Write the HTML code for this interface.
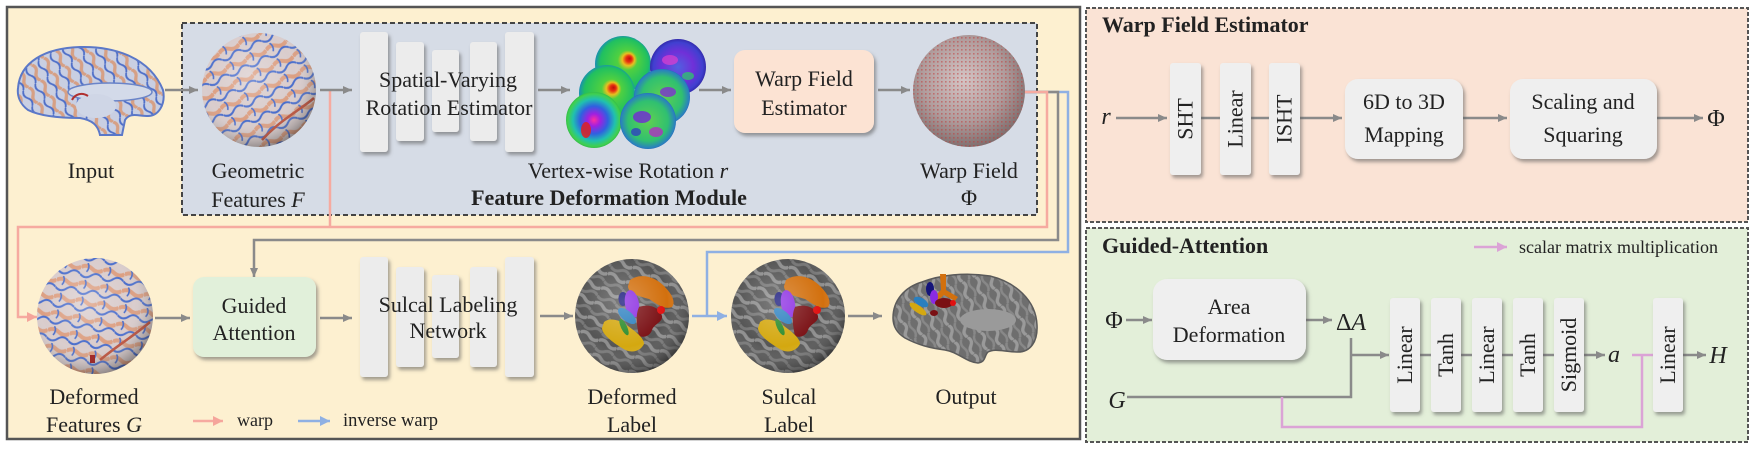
<!DOCTYPE html>
<html><head><meta charset="utf-8">
<style>
html,body{margin:0;padding:0;background:#fff;}
svg{display:block;font-family:"Liberation Serif","DejaVu Serif",serif;}
text{font-family:"Liberation Serif","DejaVu Serif",serif;fill:#222;}
</style></head><body>
<svg width="1755" height="450" viewBox="0 0 1755 450" xmlns="http://www.w3.org/2000/svg" font-family="Liberation Serif, DejaVu Serif, serif">
<defs>
 <marker id="ag" markerWidth="10" markerHeight="10" refX="9" refY="5" orient="auto" markerUnits="userSpaceOnUse"><path d="M0,1 L9,5 L0,9 Z" fill="#8a8a8a"/></marker>
 <marker id="ap" markerWidth="12" markerHeight="12" refX="10" refY="6" orient="auto" markerUnits="userSpaceOnUse"><path d="M0,1 L10,6 L0,11 Z" fill="#f5a59b"/></marker>
 <marker id="ab" markerWidth="12" markerHeight="12" refX="10" refY="6" orient="auto" markerUnits="userSpaceOnUse"><path d="M0,1 L10,6 L0,11 Z" fill="#8fb0e3"/></marker>
 <marker id="am" markerWidth="12" markerHeight="12" refX="10" refY="6" orient="auto" markerUnits="userSpaceOnUse"><path d="M0,1 L10,6 L0,11 Z" fill="#dba3d6"/></marker>
 <filter id="sh" x="-30%" y="-30%" width="170%" height="170%"><feDropShadow dx="2" dy="3" stdDeviation="1.8" flood-color="#555" flood-opacity="0.55"/></filter>

 <pattern id="ftex" width="22" height="17" patternUnits="userSpaceOnUse" patternTransform="rotate(-25)">
  <rect width="22" height="17" fill="#d9cccc"/>
  <path d="M0,5 q5.5,-4 11,0 t11,0" stroke="#dc9f82" stroke-width="4" fill="none"/>
  <path d="M0,12 q5.5,5 11,0 t11,0" stroke="#4a6ecc" stroke-width="2" fill="none"/>
  <path d="M6,0 q3,4 0,9" stroke="#4a6ecc" stroke-width="1.6" fill="none"/>
 </pattern>
 <pattern id="btex" width="18" height="14" patternUnits="userSpaceOnUse" patternTransform="rotate(60)">
  <rect width="18" height="14" fill="#c9cfe2"/>
  <path d="M0,5 q4.5,-4 9,0 t9,0" stroke="#d6a085" stroke-width="3.2" fill="none"/>
  <path d="M0,11 q4.5,4 9,0 t9,0" stroke="#4f6fc8" stroke-width="1.8" fill="none"/>
 </pattern>
 <pattern id="gyri" width="20" height="16" patternUnits="userSpaceOnUse" patternTransform="rotate(25)">
  <rect width="20" height="16" fill="#555"/>
  <path d="M0,4 q5,-4 10,0 t10,0" stroke="#8e8e8e" stroke-width="3.5" fill="none"/>
  <path d="M0,12 q5,4 10,0 t10,0" stroke="#777" stroke-width="3" fill="none"/>
 </pattern>
 <pattern id="gyri2" width="18" height="14" patternUnits="userSpaceOnUse" patternTransform="rotate(70)">
  <rect width="18" height="14" fill="#6e6e6e"/>
  <path d="M0,4 q4.5,-4 9,0 t9,0" stroke="#9a9a9a" stroke-width="3.2" fill="none"/>
  <path d="M0,11 q4.5,3 9,0 t9,0" stroke="#888" stroke-width="2.5" fill="none"/>
 </pattern>
 <pattern id="dots" width="4" height="4" patternUnits="userSpaceOnUse">
  <rect x="1" y="1" width="1.6" height="1.6" fill="#c03a3a" opacity="0.5"/>
 </pattern>
 <radialGradient id="shade" cx="0.42" cy="0.38" r="0.65">
  <stop offset="0" stop-color="#fff" stop-opacity="0.25"/>
  <stop offset="0.6" stop-color="#fff" stop-opacity="0"/>
  <stop offset="1" stop-color="#000" stop-opacity="0.38"/>
 </radialGradient>
 <radialGradient id="wgrad" cx="0.45" cy="0.4" r="0.62">
  <stop offset="0" stop-color="#d4c4c4"/>
  <stop offset="0.6" stop-color="#b09c9c"/>
  <stop offset="1" stop-color="#7d6c6c"/>
 </radialGradient>
 <radialGradient id="jetA" cx="0.5" cy="0.5" r="0.55" fx="0.62" fy="0.4">
  <stop offset="0" stop-color="#c00c0c"/>
  <stop offset="0.1" stop-color="#e83010"/>
  <stop offset="0.2" stop-color="#e8c020"/>
  <stop offset="0.32" stop-color="#50d040"/>
  <stop offset="0.78" stop-color="#20c060"/>
  <stop offset="0.92" stop-color="#1a90b0"/>
  <stop offset="1" stop-color="#1a40a8"/>
 </radialGradient>
 <radialGradient id="jetC" cx="0.5" cy="0.5" r="0.55" fx="0.5" fy="0.5">
  <stop offset="0" stop-color="#ff30a0"/>
  <stop offset="0.2" stop-color="#a020e0"/>
  <stop offset="0.45" stop-color="#3060e0"/>
  <stop offset="0.68" stop-color="#20c0b0"/>
  <stop offset="0.85" stop-color="#40d050"/>
  <stop offset="1" stop-color="#20a040"/>
 </radialGradient>
 <radialGradient id="jetB" cx="0.5" cy="0.5" r="0.55">
  <stop offset="0" stop-color="#5060e0"/>
  <stop offset="0.5" stop-color="#7030d8"/>
  <stop offset="0.8" stop-color="#4040d0"/>
  <stop offset="1" stop-color="#2a1a90"/>
 </radialGradient>
 <radialGradient id="jetD" cx="0.5" cy="0.5" r="0.55">
  <stop offset="0" stop-color="#60d050"/>
  <stop offset="0.65" stop-color="#30c070"/>
  <stop offset="0.88" stop-color="#2a80c0"/>
  <stop offset="1" stop-color="#1a3a90"/>
 </radialGradient>

 <g id="lblobs">
  <path d="M-2,-36 C8,-43 22,-40 32,-30 C40,-22 44,-14 40,-9 C32,-6 25,-12 17,-17 C7,-20 -4,-22 -4,-30 Z" fill="#d2700e"/>
  <ellipse cx="-9" cy="-17" rx="4.5" ry="7" fill="#14147a"/>
  <ellipse cx="0" cy="-12" rx="7" ry="14" transform="rotate(-10 0 -12)" fill="#8a2be2"/>
  <ellipse cx="-5" cy="0" rx="11" ry="5" transform="rotate(40 -5 0)" fill="#2a7fbf"/>
  <path d="M7,-9 C18,-13 28,-8 30,0 C31,6 22,8 20,14 C18,20 12,22 7,20 C5,10 3,0 7,-9Z" fill="#7a1014"/>
  <circle cx="29" cy="-6" r="4" fill="#e01010"/>
  <path d="M-28,6 C-22,1 -12,4 -4,10 C4,16 12,22 12,28 C8,36 -2,38 -10,32 C-20,26 -30,18 -30,12 Z" fill="#d4a810"/>
  <ellipse cx="-8" cy="11" rx="3" ry="9" transform="rotate(-25 -8 11)" fill="#2a8a2a"/>
 </g>
</defs>

<!-- left panel -->
<rect x="7" y="7" width="1073" height="432" fill="#fdf0d0" stroke="#555" stroke-width="2.5"/>
<rect x="182" y="23" width="855" height="192" fill="#d6dce6" stroke="#444" stroke-width="2" stroke-dasharray="5 3"/>

<!-- right panels -->
<rect x="1086" y="8" width="662" height="214" fill="#fae3d5" stroke="#555" stroke-width="2" stroke-dasharray="4 2"/>
<rect x="1086" y="228" width="662" height="214" fill="#e3efd9" stroke="#555" stroke-width="2" stroke-dasharray="4 2"/>

<!-- long connectors -->
<path d="M1020,92 H1068 V252 H707 V316" fill="none" stroke="#8fb0e3" stroke-width="2.5"/>
<path d="M1020,92 H1058 V240 H254 V277" fill="none" stroke="#8a8a8a" stroke-width="2.5" marker-end="url(#ag)"/>
<path d="M1020,92 H1047 V227 H18 V317 H37" fill="none" stroke="#f6aaa0" stroke-width="2.5" marker-end="url(#ap)"/>
<path d="M330,90 V227" fill="none" stroke="#f6aaa0" stroke-width="2.5"/>
<path d="M692,316 H727" fill="none" stroke="#8fb0e3" stroke-width="2.5" marker-end="url(#ab)"/>

<!-- short gray arrows -->
<g stroke="#8a8a8a" stroke-width="2.5" fill="none" marker-end="url(#ag)">
 <path d="M165,90 H198"/>
 <path d="M320,90 H352"/>
 <path d="M538,90 H570"/>
 <path d="M699,90 H731"/>
 <path d="M878,90 H910"/>
 <path d="M155,318 H190"/>
 <path d="M320,318 H352"/>
 <path d="M540,316 H573"/>
 <path d="M848,316 H882"/>
</g>

<!-- input brain -->
<path d="M18,88 C20,62 45,48 80,47 C115,46 150,58 163,90 C166,105 158,116 148,116 C138,116 130,112 125,120 L122,135 L100,135 C98,125 92,120 80,118 C60,118 40,116 28,110 C20,104 17,96 18,88 Z" fill="url(#btex)" stroke="#5b78c8" stroke-width="2"/>
<ellipse cx="110" cy="92" rx="42" ry="9" fill="#d3dae9" stroke="#6a84c8" stroke-width="1.5"/>
<ellipse cx="96" cy="106" rx="20" ry="12" fill="#cfd6e6"/>
<path d="M72,100 C75,94 82,92 88,96" stroke="#b03030" stroke-width="2" fill="none"/>

<!-- geometric sphere -->
<circle cx="259" cy="90" r="57" fill="url(#ftex)"/>
<path d="M262,140 C280,120 300,110 314,98" stroke="#c0503a" stroke-width="2.5" fill="none"/>
<circle cx="259" cy="90" r="57" fill="url(#shade)"/>

<!-- estimator bars -->
<g fill="#ececec" filter="url(#sh)">
 <rect x="360" y="32" width="28" height="120" rx="3"/>
 <rect x="396" y="42" width="28" height="99" rx="3"/>
 <rect x="432" y="50" width="27" height="82" rx="3"/>
 <rect x="470" y="42" width="27" height="99" rx="3"/>
 <rect x="505" y="32" width="29" height="120" rx="3"/>
</g>
<text x="448" y="87" font-size="22" text-anchor="middle">Spatial-Varying</text>
<text x="449" y="115" font-size="22" text-anchor="middle">Rotation Estimator</text>

<!-- rotation spheres -->
<circle cx="623" cy="64" r="28" fill="url(#jetA)"/>
<circle cx="678" cy="67" r="28" fill="url(#jetB)"/>
<ellipse cx="670" cy="60" rx="8" ry="5" fill="#d040d0" opacity="0.8"/>
<ellipse cx="688" cy="76" rx="6" ry="4" fill="#30c070" opacity="0.8"/>
<circle cx="607" cy="93" r="28" fill="url(#jetA)"/>
<circle cx="662" cy="97" r="28" fill="url(#jetD)"/>
<ellipse cx="668" cy="92" rx="8" ry="5" fill="#8030d0" opacity="0.8"/>
<ellipse cx="655" cy="106" rx="6" ry="4" fill="#3040c0" opacity="0.8"/>
<circle cx="594" cy="120" r="28" fill="url(#jetC)"/>
<ellipse cx="586" cy="130" rx="5" ry="8" fill="#e02020" opacity="0.85"/>
<circle cx="648" cy="121" r="28" fill="url(#jetD)"/>
<ellipse cx="642" cy="117" rx="9" ry="6" fill="#7030d0" opacity="0.85"/>
<ellipse cx="656" cy="132" rx="7" ry="5" fill="#b030c0" opacity="0.8"/>
<ellipse cx="636" cy="132" rx="5" ry="4" fill="#3040c0" opacity="0.8"/>

<!-- WFE box -->
<rect x="734" y="50" width="140" height="83" rx="11" fill="#fce3d3" filter="url(#sh)"/>
<text x="804" y="86" font-size="22" text-anchor="middle">Warp Field</text>
<text x="804" y="115" font-size="22" text-anchor="middle">Estimator</text>

<!-- warp sphere -->
<circle cx="969" cy="91" r="56" fill="url(#wgrad)"/>
<circle cx="969" cy="91" r="56" fill="url(#dots)"/>

<!-- top labels -->
<text x="91" y="178" font-size="22" text-anchor="middle">Input</text>
<text x="258" y="178" font-size="22" text-anchor="middle">Geometric</text>
<text x="258" y="207" font-size="22" text-anchor="middle">Features <tspan font-style="italic">F</tspan></text>
<text x="628" y="178" font-size="22" text-anchor="middle">Vertex-wise Rotation <tspan font-style="italic">r</tspan></text>
<text x="609" y="205" font-size="22" font-weight="bold" text-anchor="middle">Feature Deformation Module</text>
<text x="969" y="178" font-size="22" text-anchor="middle">Warp Field</text>
<text x="969" y="205" font-size="22" text-anchor="middle">Φ</text>

<!-- deformed features sphere -->
<g transform="translate(95,316) rotate(35)">
 <circle cx="0" cy="0" r="58" fill="url(#ftex)"/>
</g>
<path d="M100,360 C118,345 135,335 150,322" stroke="#c0503a" stroke-width="2.5" fill="none"/>
<rect x="90" y="355" width="5" height="8" fill="#a01818"/>
<circle cx="95" cy="316" r="58" fill="url(#shade)"/>

<!-- GA box -->
<rect x="193" y="277" width="123" height="80" rx="11" fill="#e1f0da" filter="url(#sh)"/>
<text x="254" y="313" font-size="22" text-anchor="middle">Guided</text>
<text x="254" y="340" font-size="22" text-anchor="middle">Attention</text>

<!-- network bars -->
<g fill="#ececec" filter="url(#sh)">
 <rect x="360" y="257" width="28" height="120" rx="3"/>
 <rect x="396" y="267" width="28" height="100" rx="3"/>
 <rect x="432" y="275" width="27" height="83" rx="3"/>
 <rect x="470" y="267" width="27" height="100" rx="3"/>
 <rect x="505" y="257" width="29" height="120" rx="3"/>
</g>
<text x="448" y="312" font-size="22" text-anchor="middle">Sulcal Labeling</text>
<text x="448" y="338" font-size="22" text-anchor="middle">Network</text>

<!-- label spheres -->
<g transform="translate(632,316)">
 <circle r="57" fill="url(#gyri)"/>
 <use href="#lblobs"/>
 <circle r="57" fill="url(#shade)"/>
</g>
<g transform="translate(788,316)">
 <circle r="57" fill="url(#gyri)"/>
 <use href="#lblobs"/>
 <circle r="57" fill="url(#shade)"/>
</g>

<!-- output brain -->
<path d="M893,318 C893,300 905,287 922,282 C940,275 965,272 990,276 C1015,282 1036,300 1037,325 C1038,342 1030,352 1018,352 C1005,352 995,348 988,352 C984,356 986,362 978,363 C966,362 958,352 945,350 C930,348 918,345 905,338 C897,333 893,326 893,318 Z" fill="url(#gyri2)" stroke="#5a5a5a" stroke-width="1.5"/>
<ellipse cx="988" cy="320" rx="28" ry="11" fill="#9a9a9a"/>
<path d="M940,274 L946,274 L946,290 L958,297 L955,301 L944,295 L936,302 L933,298 L941,290 Z" fill="#d2700e"/>
<ellipse cx="930" cy="289" rx="4" ry="7" fill="#14147a"/>
<ellipse cx="934" cy="297" rx="4" ry="7" fill="#8a2be2"/>
<ellipse cx="921" cy="302" rx="8" ry="4" transform="rotate(30 921 302)" fill="#2a7fbf"/>
<ellipse cx="918" cy="309" rx="10" ry="3.5" transform="rotate(35 918 309)" fill="#d4a810"/>
<ellipse cx="944" cy="303" rx="9" ry="5" fill="#7a1014"/>
<circle cx="953" cy="303" r="3" fill="#e01010"/>
<ellipse cx="934" cy="313" rx="4" ry="3" fill="#7a1014"/>

<!-- bottom labels -->
<text x="94" y="404" font-size="22" text-anchor="middle">Deformed</text>
<text x="94" y="432" font-size="22" text-anchor="middle">Features <tspan font-style="italic">G</tspan></text>
<text x="632" y="404" font-size="22" text-anchor="middle">Deformed</text>
<text x="632" y="432" font-size="22" text-anchor="middle">Label</text>
<text x="789" y="404" font-size="22" text-anchor="middle">Sulcal</text>
<text x="789" y="432" font-size="22" text-anchor="middle">Label</text>
<text x="966" y="404" font-size="22" text-anchor="middle">Output</text>

<!-- legend -->
<path d="M193,421 H223" stroke="#f6aaa0" stroke-width="2.5" marker-end="url(#ap)"/>
<text x="237" y="426" font-size="18">warp</text>
<path d="M298,421 H330" stroke="#8fb0e3" stroke-width="2.5" marker-end="url(#ab)"/>
<text x="343" y="426" font-size="18.5">inverse warp</text>

<!-- ===== Warp Field Estimator panel ===== -->
<text x="1102" y="32" font-size="22" font-weight="bold">Warp Field Estimator</text>
<text x="1106" y="124" font-size="24" font-style="italic" text-anchor="middle">r</text>
<g stroke="#8a8a8a" stroke-width="2.5" fill="none">
 <path d="M1116,118 H1167" marker-end="url(#ag)"/>
 <path d="M1201,118 H1220"/>
 <path d="M1251,118 H1269"/>
 <path d="M1300,118 H1342" marker-end="url(#ag)"/>
 <path d="M1463,118 H1507" marker-end="url(#ag)"/>
 <path d="M1657,118 H1703" marker-end="url(#ag)"/>
</g>
<g fill="#efefef" filter="url(#sh)">
 <rect x="1170" y="63" width="31" height="112" rx="3"/>
 <rect x="1220" y="63" width="31" height="112" rx="3"/>
 <rect x="1269" y="63" width="31" height="112" rx="3"/>
 <rect x="1345" y="79" width="118" height="80" rx="13"/>
 <rect x="1510" y="79" width="147" height="80" rx="13"/>
</g>
<text transform="translate(1185.5,119) rotate(-90)" y="7" font-size="22" text-anchor="middle">SHT</text>
<text transform="translate(1235.5,119) rotate(-90)" y="7" font-size="22" text-anchor="middle">Linear</text>
<text transform="translate(1284.5,119) rotate(-90)" y="7" font-size="22" text-anchor="middle">ISHT</text>
<text x="1404" y="109" font-size="22" text-anchor="middle">6D to 3D</text>
<text x="1404" y="142" font-size="22" text-anchor="middle">Mapping</text>
<text x="1583" y="109" font-size="22" text-anchor="middle">Scaling and</text>
<text x="1583" y="142" font-size="22" text-anchor="middle">Squaring</text>
<text x="1716" y="126" font-size="24" text-anchor="middle">Φ</text>

<!-- ===== Guided-Attention panel ===== -->
<text x="1102" y="253" font-size="22" font-weight="bold">Guided-Attention</text>
<path d="M1474,247 H1507" stroke="#dba3d6" stroke-width="2.5" marker-end="url(#am)"/>
<text x="1519" y="253" font-size="18">scalar matrix multiplication</text>

<text x="1114" y="328" font-size="24" text-anchor="middle">Φ</text>
<g stroke="#8a8a8a" stroke-width="2.5" fill="none">
 <path d="M1126,320 H1152" marker-end="url(#ag)"/>
 <path d="M1306,320 H1332" marker-end="url(#ag)"/>
 <path d="M1351,338 V397 H1127"/>
 <path d="M1351,355 H1389" marker-end="url(#ag)"/>
 <path d="M1420,355 H1431"/>
 <path d="M1461,355 H1472"/>
 <path d="M1502,355 H1513"/>
 <path d="M1543,355 H1554"/>
 <path d="M1584,355 H1605" marker-end="url(#ag)"/>
 <path d="M1683,355 H1706" marker-end="url(#ag)"/>
</g>
<path d="M1282,397 V427 H1642 V355" stroke="#dba3d6" stroke-width="2.5" fill="none"/>
<path d="M1632,355 H1653" stroke="#dba3d6" stroke-width="2.5" fill="none"/>
<g fill="#efefef" filter="url(#sh)">
 <rect x="1153" y="279" width="153" height="81" rx="14"/>
 <rect x="1390" y="298" width="30" height="114" rx="3"/>
 <rect x="1431" y="298" width="30" height="114" rx="3"/>
 <rect x="1472" y="298" width="30" height="114" rx="3"/>
 <rect x="1513" y="298" width="30" height="114" rx="3"/>
 <rect x="1554" y="298" width="30" height="114" rx="3"/>
 <rect x="1653" y="298" width="30" height="114" rx="3"/>
</g>
<text x="1229" y="314" font-size="22" text-anchor="middle">Area</text>
<text x="1229" y="342" font-size="22" text-anchor="middle">Deformation</text>
<text x="1351" y="330" font-size="24" text-anchor="middle">Δ<tspan font-style="italic">A</tspan></text>
<text x="1117" y="408" font-size="24" font-style="italic" text-anchor="middle">G</text>
<text x="1614" y="362" font-size="24" font-style="italic" text-anchor="middle">a</text>
<text x="1718" y="363" font-size="24" font-style="italic" text-anchor="middle">H</text>
<text transform="translate(1405,355) rotate(-90)" y="7" font-size="22" text-anchor="middle">Linear</text>
<text transform="translate(1446,355) rotate(-90)" y="7" font-size="22" text-anchor="middle">Tanh</text>
<text transform="translate(1487,355) rotate(-90)" y="7" font-size="22" text-anchor="middle">Linear</text>
<text transform="translate(1528,355) rotate(-90)" y="7" font-size="22" text-anchor="middle">Tanh</text>
<text transform="translate(1569,355) rotate(-90)" y="7" font-size="22" text-anchor="middle">Sigmoid</text>
<text transform="translate(1668,355) rotate(-90)" y="7" font-size="22" text-anchor="middle">Linear</text>
</svg>
</body></html>
